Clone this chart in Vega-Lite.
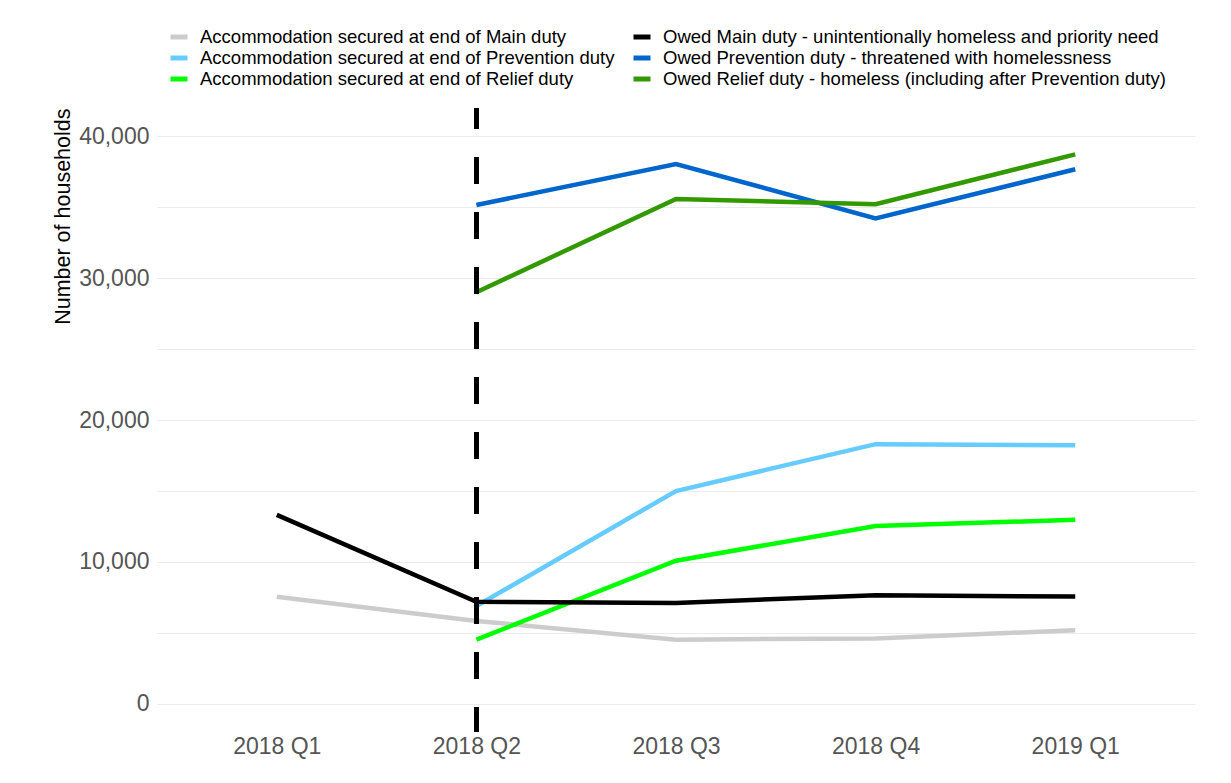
{
  "$schema": "https://vega.github.io/schema/vega-lite/v6.json",
  "width": 1038,
  "height": 624,
  "autosize": {"type": "none"},
  "padding": {"left": 157, "top": 108, "right": 36, "bottom": 51},
  "background": "white",
  "config": {
    "view": {"stroke": null},
    "font": "Liberation Sans"
  },
  "data": {
    "values": [
      {"quarter": "2018 Q1", "series": "Accommodation secured at end of Main duty", "households": 7550},
      {"quarter": "2018 Q2", "series": "Accommodation secured at end of Main duty", "households": 5850},
      {"quarter": "2018 Q3", "series": "Accommodation secured at end of Main duty", "households": 4530},
      {"quarter": "2018 Q4", "series": "Accommodation secured at end of Main duty", "households": 4620},
      {"quarter": "2019 Q1", "series": "Accommodation secured at end of Main duty", "households": 5190},
      {"quarter": "2018 Q2", "series": "Accommodation secured at end of Prevention duty", "households": 6900},
      {"quarter": "2018 Q3", "series": "Accommodation secured at end of Prevention duty", "households": 15000},
      {"quarter": "2018 Q4", "series": "Accommodation secured at end of Prevention duty", "households": 18300},
      {"quarter": "2019 Q1", "series": "Accommodation secured at end of Prevention duty", "households": 18220},
      {"quarter": "2018 Q2", "series": "Accommodation secured at end of Relief duty", "households": 4530},
      {"quarter": "2018 Q3", "series": "Accommodation secured at end of Relief duty", "households": 10090},
      {"quarter": "2018 Q4", "series": "Accommodation secured at end of Relief duty", "households": 12540},
      {"quarter": "2019 Q1", "series": "Accommodation secured at end of Relief duty", "households": 12970},
      {"quarter": "2018 Q1", "series": "Owed Main duty - unintentionally homeless and priority need", "households": 13320},
      {"quarter": "2018 Q2", "series": "Owed Main duty - unintentionally homeless and priority need", "households": 7200},
      {"quarter": "2018 Q3", "series": "Owed Main duty - unintentionally homeless and priority need", "households": 7120},
      {"quarter": "2018 Q4", "series": "Owed Main duty - unintentionally homeless and priority need", "households": 7660},
      {"quarter": "2019 Q1", "series": "Owed Main duty - unintentionally homeless and priority need", "households": 7570},
      {"quarter": "2018 Q2", "series": "Owed Prevention duty - threatened with homelessness", "households": 35140},
      {"quarter": "2018 Q3", "series": "Owed Prevention duty - threatened with homelessness", "households": 38030},
      {"quarter": "2018 Q4", "series": "Owed Prevention duty - threatened with homelessness", "households": 34200},
      {"quarter": "2019 Q1", "series": "Owed Prevention duty - threatened with homelessness", "households": 37660},
      {"quarter": "2018 Q2", "series": "Owed Relief duty - homeless (including after Prevention duty)", "households": 29000},
      {"quarter": "2018 Q3", "series": "Owed Relief duty - homeless (including after Prevention duty)", "households": 35560},
      {"quarter": "2018 Q4", "series": "Owed Relief duty - homeless (including after Prevention duty)", "households": 35200},
      {"quarter": "2019 Q1", "series": "Owed Relief duty - homeless (including after Prevention duty)", "households": 38710}
    ]
  },
  "layer": [
    {
      "mark": {"type": "line", "strokeWidth": 4.5, "strokeCap": "butt", "strokeJoin": "miter"},
      "encoding": {
        "x": {
          "field": "quarter",
          "type": "ordinal",
          "scale": {"type": "point", "padding": 0.6, "domain": ["2018 Q1", "2018 Q2", "2018 Q3", "2018 Q4", "2019 Q1"]},
          "axis": {
            "title": null,
            "labelAngle": 0,
            "labelFontSize": 23,
            "labelColor": "#555555",
            "labelPadding": 3,
            "ticks": false,
            "domain": false,
            "grid": false
          }
        },
        "y": {
          "field": "households",
          "type": "quantitative",
          "scale": {"domain": [-1972, 41972], "nice": false, "zero": false},
          "axis": {
            "title": "Number of households",
            "titleFontSize": 21.5,
            "titleFontWeight": "normal",
            "titleColor": "#000000",
            "titleAnchor": "end",
            "titlePadding": 4,
            "values": [0, 5000, 10000, 15000, 20000, 25000, 30000, 35000, 40000],
            "labelExpr": "datum.value % 10000 == 0 ? format(datum.value, ',') : ''",
            "labelFontSize": 23,
            "labelColor": "#555555",
            "labelPadding": 8,
            "ticks": false,
            "domain": false,
            "gridColor": "#ebebeb",
            "gridWidth": 1.2
          }
        },
        "color": {
          "field": "series",
          "type": "nominal",
          "scale": {
            "domain": [
              "Accommodation secured at end of Main duty",
              "Owed Main duty - unintentionally homeless and priority need",
              "Accommodation secured at end of Prevention duty",
              "Owed Prevention duty - threatened with homelessness",
              "Accommodation secured at end of Relief duty",
              "Owed Relief duty - homeless (including after Prevention duty)"
            ],
            "range": ["#cccccc", "#000000", "#66ccff", "#0066cc", "#00ff00", "#339900"]
          },
          "legend": {
            "title": null,
            "orient": "none",
            "legendX": 11,
            "legendY": -82,
            "columns": 2,
            "direction": "horizontal",
            "symbolType": "stroke",
            "symbolSize": 289,
            "symbolStrokeWidth": 5,
            "labelFontSize": 18.5,
            "labelColor": "#000000",
            "labelOffset": 10,
            "rowPadding": 0,
            "columnPadding": 8,
            "labelLimit": 0
          }
        }
      }
    },
    {
      "mark": {"type": "rule", "color": "#000000", "strokeWidth": 4.5, "strokeDash": [27, 28], "strokeDashOffset": 6},
      "encoding": {
        "x": {"datum": "2018 Q2", "type": "ordinal"}
      }
    }
  ]
}
